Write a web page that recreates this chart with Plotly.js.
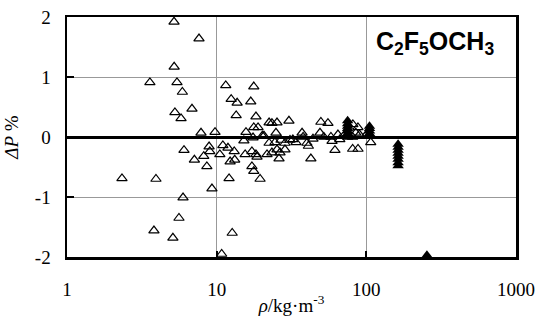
<!DOCTYPE html>
<html>
<head>
<meta charset="utf-8">
<script src="https://cdn.plot.ly/plotly-3.0.1.min.js"></script>
<style>html,body{margin:0;padding:0;background:#fff;}#chart{width:537px;height:325px;}</style>
</head>
<body>
<div id="chart"></div>
<script>
// Open triangles: density (kg/m3) and deviation (%)
const openRho = [5.19,7.62,5.2,3.58,5.43,5.9,11.5,17.7,12.5,13.7,16.9,5.26,5.78,6.84,13.5,18.3,7.86,9.75,6.05,8.9,9.0,8.2,7.1,8.6,10.5,11.0,11.9,13.1,12.3,13.2,15.7,17.7,18.9,15.2,17.5,20.7,15.5,17.2,18.3,17.2,17.7,19.5,12.1,3.93,9.3,5.96,5.6,3.81,5.1,12.7,10.8,2.33,18.6,22.4,23.4,25.3,30.4,24.9,22.4,24.5,26.9,28.6,30.9,32.3,33.9,37.2,37.8,40.1,41.0,44,49.7,55.4,49,52,58,64.6,66.5,59,61.7,42.6,21.7,23.4,25.3,26.5,28.6,26.1,20.2,81.3,87.9,85,90,100,81,75,81,88,107,72];
const openDev = [1.92,1.64,1.17,0.91,0.91,0.75,0.86,0.84,0.63,0.57,0.59,0.41,0.31,0.47,0.36,0.34,0.07,0.08,-0.22,-0.16,-0.24,-0.32,-0.38,-0.49,-0.29,-0.14,-0.18,-0.24,-0.41,-0.38,0.08,0.16,0.16,-0.06,-0.01,0.02,-0.29,-0.24,-0.29,-0.49,-0.57,-0.70,-0.69,-0.70,-0.86,-1.01,-1.35,-1.56,-1.68,-1.60,-1.95,-0.69,-0.33,0.24,0.23,0.24,0.27,0.07,-0.10,-0.09,-0.05,-0.10,-0.05,-0.04,-0.09,0.07,0.00,-0.10,-0.15,-0.03,0.25,0.23,0.07,0.00,0.00,0.04,-0.04,-0.07,-0.22,-0.36,-0.29,-0.26,-0.21,-0.26,-0.21,-0.36,0.02,0.21,0.16,0.07,0.04,0.04,0.00,0.00,-0.20,-0.20,-0.09,0.05];
// Filled triangles
const filledRho = [75,75,75,75,75,75,75,105,105,105,105,105,163,163,163,163,163,163,163,163,254];
const filledDev = [0.27,0.22,0.18,0.14,0.10,0.06,0.02,0.18,0.14,0.10,0.06,0.02,-0.12,-0.17,-0.22,-0.27,-0.32,-0.37,-0.43,-0.48,-1.97];
const xTickVals = [1,10,100,1000];
const xTickText = ['1','10','100','1000'];
const yTickVals = [-2,-1,0,1,2];
const yTickText = ['-2','-1','0','1','2'];

const traces = [
  {x: openRho, y: openDev, type: 'scatter', mode: 'markers', cliponaxis: false,
   marker: {symbol: 'triangle-up-open', size: 9, color: '#000', line: {width: 1.2, color: '#000'}}},
  {x: filledRho, y: filledDev, type: 'scatter', mode: 'markers', cliponaxis: false,
   marker: {symbol: 'triangle-up', size: 10, color: '#000'}}
];
const layout = {
  width: 537, height: 325,
  margin: {l: 67, r: 21, t: 17, b: 68},
  paper_bgcolor: '#fff', plot_bgcolor: '#fff',
  showlegend: false,
  font: {family: '"Liberation Serif", "Times New Roman", serif', size: 19, color: '#000'},
  xaxis: {
    type: 'log', range: [0, 3], tickvals: xTickVals, ticktext: xTickText,
    showgrid: true, gridcolor: '#999', gridwidth: 1,
    showline: true, mirror: true, linecolor: '#000', linewidth: 2.5,
    ticks: 'inside', ticklen: 6, tickwidth: 2, tickcolor: '#000',
    ticklabelstandoff: 14, zeroline: false,
    title: {text: '<i>ρ</i>/kg·m<sup>-3</sup>', font: {size: 19}, standoff: 0}
  },
  yaxis: {
    range: [-2, 2], tickvals: yTickVals, ticktext: yTickText,
    showgrid: true, gridcolor: '#999', gridwidth: 1,
    showline: true, mirror: true, linecolor: '#000', linewidth: 2.5,
    ticks: 'inside', ticklen: 7, tickwidth: 2, tickcolor: '#000',
    ticklabelstandoff: 10,
    zeroline: true, zerolinecolor: '#000', zerolinewidth: 3,
    title: {text: '<i>ΔP</i> %', font: {size: 19}}
  },
  annotations: [{
    xref: 'paper', yref: 'paper', x: 0.82, y: 0.89, xanchor: 'center', yanchor: 'middle',
    text: '<b>C<sub>2</sub>F<sub>5</sub>OCH<sub>3</sub></b>', showarrow: false,
    font: {family: '"Liberation Sans", Arial, sans-serif', size: 25, color: '#000'}
  }]
};
Plotly.newPlot('chart', traces, layout, {displayModeBar: false, staticPlot: true});
</script>
</body>
</html>
